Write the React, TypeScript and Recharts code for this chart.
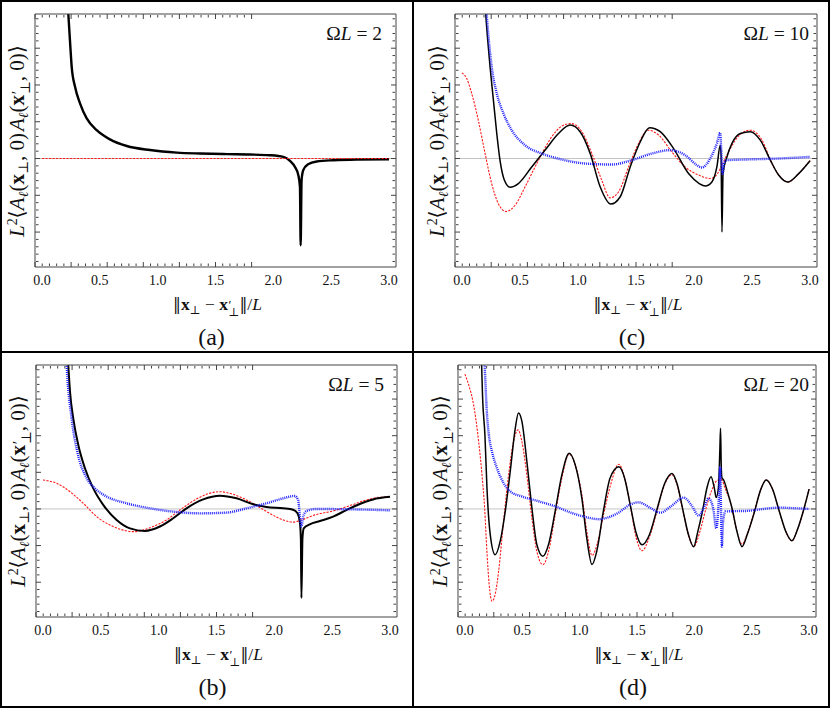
import { LineChart, Line, XAxis, YAxis, ReferenceLine } from 'recharts'

const SERIF = "'Liberation Serif', 'DejaVu Serif', serif"

// axis ranges (x gets the usual ~2% padding of the original plot)
const X_DOMAIN: [number, number] = [-0.06, 3.06]
const Y_DOMAIN: [number, number] = [-2.95, 3.93]
const X_TICKS = [0, 0.5, 1, 1.5, 2, 2.5, 3]
const X_MINOR = [0.1, 0.2, 0.3, 0.4, 0.6, 0.7, 0.8, 0.9, 1.1, 1.2, 1.3, 1.4, 1.6, 1.7, 1.8, 1.9, 2.1, 2.2, 2.3, 2.4, 2.6, 2.7, 2.8, 2.9]
const Y_TICKS = [-2, -1, 0, 1, 2, 3]
const Y_MINOR = [-2.8, -2.6, -2.4, -2.2, -1.8, -1.6, -1.4, -1.2, -0.8, -0.6, -0.4, -0.2, 0.2, 0.4, 0.6, 0.8, 1.2, 1.4, 1.6, 1.8, 2.2, 2.4, 2.6, 2.8, 3.2, 3.4, 3.6, 3.8]

// (a) ΩL = 2
const A_BLACK_X = [0.18, 0.21, 0.228, 0.242, 0.257, 0.286, 0.329, 0.387, 0.473, 0.588, 0.733, 0.934, 1.165, 1.366, 1.6, 1.8, 1.97, 2.086, 2.144, 2.187, 2.216, 2.23, 2.236, 2.244, 2.258, 2.3, 2.375, 2.52, 2.72, 3.0]
const A_BLACK_Y = [6.8, 4.9, 3.93, 3.22, 2.5, 1.95, 1.5, 1.09, 0.77, 0.52, 0.34, 0.23, 0.16, 0.136, 0.12, 0.11, 0.09, 0.044, -0.065, -0.23, -0.455, -0.77, -2.36, -0.59, -0.32, -0.155, -0.08, -0.046, -0.027, -0.02]
const A_RED_X = [0, 3.0]
const A_RED_Y = [0, 0]

// (b) ΩL = 5
const B_BLACK_X = [0.2, 0.219, 0.234, 0.262, 0.306, 0.363, 0.435, 0.521, 0.637, 0.752, 0.881, 1.011, 1.126, 1.241, 1.385, 1.529, 1.673, 1.817, 1.932, 2.076, 2.162, 2.2, 2.22, 2.229, 2.234, 2.243, 2.254, 2.306, 2.393, 2.508, 2.623, 2.738, 2.853, 3.0]
const B_BLACK_Y = [5.0, 3.92, 3.2, 2.47, 1.74, 1.11, 0.56, 0.11, -0.3, -0.53, -0.6, -0.48, -0.255, 0.017, 0.26, 0.36, 0.29, 0.126, 0.054, 0.017, -0.02, -0.12, -0.35, -0.8, -2.43, -0.8, -0.53, -0.42, -0.33, -0.21, -0.03, 0.135, 0.26, 0.33]
const B_RED_X = [0, 0.118, 0.234, 0.349, 0.464, 0.608, 0.78, 0.953, 1.068, 1.184, 1.327, 1.414, 1.529, 1.644, 1.788, 1.932, 2.076, 2.162, 2.234, 2.364, 2.508, 2.652, 2.796, 2.91, 3.0]
const B_RED_Y = [0.79, 0.7, 0.47, 0.153, -0.21, -0.48, -0.62, -0.48, -0.3, -0.03, 0.27, 0.4, 0.47, 0.4, 0.2, -0.07, -0.3, -0.36, -0.3, -0.15, -0.055, 0.09, 0.245, 0.32, 0.33]
const B_BLUE_X = [0.19, 0.205, 0.248, 0.297, 0.378, 0.45, 0.55, 0.723, 0.925, 1.126, 1.356, 1.587, 1.759, 1.932, 2.076, 2.177, 2.205, 2.226, 2.234, 2.249, 2.278, 2.364, 2.652, 3.0]
const B_BLUE_Y = [5.0, 3.92, 2.47, 1.56, 0.84, 0.56, 0.34, 0.153, 0.017, -0.073, -0.12, -0.1, 0.017, 0.153, 0.29, 0.354, 0.245, -0.346, -0.48, -0.21, -0.055, 0.0, -0.01, -0.037]

// (c) ΩL = 10
const C_BLACK_X = [0.19, 0.205, 0.222, 0.242, 0.271, 0.3, 0.328, 0.366, 0.415, 0.486, 0.601, 0.717, 0.832, 0.932, 1.018, 1.105, 1.191, 1.283, 1.364, 1.45, 1.536, 1.617, 1.709, 1.824, 1.953, 2.045, 2.097, 2.154, 2.197, 2.226, 2.233, 2.241, 2.25, 2.284, 2.327, 2.399, 2.485, 2.571, 2.658, 2.729, 2.807, 2.902, 3.0]
const C_BLACK_Y = [4.9, 3.93, 3.22, 2.5, 1.59, 0.68, -0.05, -0.59, -0.78, -0.68, -0.23, 0.23, 0.68, 0.91, 0.73, 0.14, -0.77, -1.24, -1.04, -0.23, 0.45, 0.84, 0.73, 0.27, -0.41, -0.68, -0.75, -0.64, -0.23, 0.36, 0.1, -2.0, -0.41, 0.045, 0.41, 0.68, 0.73, 0.5, -0.045, -0.45, -0.64, -0.41, -0.06]
const C_RED_X = [0, 0.04, 0.084, 0.141, 0.199, 0.256, 0.314, 0.38, 0.458, 0.544, 0.659, 0.774, 0.86, 0.941, 1.033, 1.119, 1.205, 1.277, 1.349, 1.436, 1.522, 1.602, 1.694, 1.809, 1.924, 2.04, 2.14, 2.2, 2.25, 2.3, 2.35, 2.4, 2.485, 2.586, 2.672, 2.758, 2.81, 2.902, 3.0]
const C_RED_Y = [2.33, 2.18, 1.77, 1.04, 0.14, -0.68, -1.23, -1.44, -1.27, -0.77, -0.05, 0.59, 0.88, 0.95, 0.73, 0.14, -0.59, -1.07, -0.91, -0.23, 0.41, 0.77, 0.64, 0.18, -0.23, -0.45, -0.545, -0.42, -0.12, 0.2, 0.47, 0.66, 0.77, 0.5, -0.14, -0.545, -0.64, -0.41, -0.05]
const C_BLUE_X = [0.19, 0.213, 0.256, 0.3, 0.357, 0.429, 0.544, 0.688, 0.86, 1.062, 1.292, 1.464, 1.637, 1.795, 1.924, 2.025, 2.068, 2.14, 2.197, 2.226, 2.235, 2.246, 2.26, 2.284, 2.442, 2.73, 3.0]
const C_BLUE_Y = [5.0, 3.93, 2.5, 1.77, 1.23, 0.77, 0.36, 0.136, -0.027, -0.136, -0.163, -0.045, 0.136, 0.227, 0.09, -0.18, -0.245, 0.0, 0.41, 0.7, 0.2, -0.41, -0.1, -0.045, -0.027, 0.0, 0.045]

// (d) ΩL = 20
const D_BLACK_X = [0.13, 0.146, 0.154, 0.175, 0.192, 0.221, 0.264, 0.308, 0.352, 0.395, 0.439, 0.467, 0.497, 0.54, 0.584, 0.627, 0.68, 0.729, 0.787, 0.845, 0.909, 0.961, 1.019, 1.062, 1.108, 1.149, 1.207, 1.265, 1.342, 1.392, 1.443, 1.494, 1.544, 1.61, 1.675, 1.74, 1.805, 1.85, 1.9, 1.95, 1.994, 2.03, 2.07, 2.11, 2.145, 2.175, 2.19, 2.21, 2.222, 2.228, 2.234, 2.24, 2.255, 2.29, 2.328, 2.37, 2.415, 2.465, 2.52, 2.575, 2.626, 2.68, 2.738, 2.8, 2.85, 2.9, 2.95, 3.0]
const D_BLACK_Y = [5.0, 3.92, 3.07, 2.0, 0.6, -0.7, -1.25, -0.88, -0.06, 1.02, 2.2, 2.62, 2.39, 1.3, 0.03, -0.97, -1.29, -0.97, -0.06, 0.93, 1.52, 1.21, 0.3, -0.79, -1.52, -1.16, -0.06, 0.84, 1.15, 0.84, 0.08, -0.67, -0.98, -0.69, 0.0, 0.69, 0.97, 0.68, -0.03, -0.72, -1.03, -0.62, -0.07, 0.58, 0.88, 0.55, 0.31, 0.6, 1.6, 2.2, 1.2, 0.85, 0.79, 0.45, 0.02, -0.6, -1.03, -0.66, -0.12, 0.5, 0.79, 0.55, -0.04, -0.64, -0.87, -0.55, -0.05, 0.54]
const D_RED_X = [0, 0.033, 0.076, 0.12, 0.149, 0.172, 0.192, 0.212, 0.236, 0.264, 0.294, 0.337, 0.381, 0.424, 0.464, 0.497, 0.54, 0.584, 0.627, 0.68, 0.729, 0.787, 0.845, 0.909, 0.961, 1.019, 1.062, 1.108, 1.154, 1.212, 1.27, 1.341, 1.392, 1.444, 1.494, 1.544, 1.61, 1.675, 1.74, 1.805, 1.85, 1.9, 1.95, 1.994, 2.05, 2.1, 2.15, 2.2, 2.235, 2.27, 2.328, 2.37, 2.415, 2.465, 2.52, 2.575, 2.626, 2.68, 2.738, 2.8, 2.85, 2.9, 2.95, 3.0]
const D_RED_Y = [3.68, 3.39, 2.84, 1.84, 0.93, 0.03, -1.16, -2.07, -2.52, -2.33, -1.7, -0.34, 0.93, 1.84, 2.16, 1.84, 0.93, -0.25, -1.16, -1.52, -1.16, -0.15, 0.84, 1.5, 1.21, 0.39, -0.6, -1.27, -0.95, -0.1, 0.66, 1.22, 0.85, 0.05, -0.8, -1.14, -0.75, -0.05, 0.66, 0.93, 0.65, -0.05, -0.72, -1.03, -0.6, 0.0, 0.5, 0.78, 0.8, 0.55, 0.02, -0.6, -0.96, -0.64, -0.1, 0.5, 0.79, 0.55, -0.04, -0.64, -0.87, -0.55, -0.05, 0.54]
const D_BLUE_X = [0.15, 0.172, 0.192, 0.207, 0.236, 0.279, 0.337, 0.395, 0.497, 0.642, 0.787, 0.932, 1.077, 1.167, 1.25, 1.34, 1.44, 1.515, 1.61, 1.704, 1.8, 1.907, 1.975, 2.037, 2.085, 2.124, 2.165, 2.191, 2.21, 2.226, 2.232, 2.24, 2.25, 2.27, 2.35, 2.444, 2.6, 2.734, 2.87, 3.0]
const D_BLUE_Y = [5.2, 3.93, 2.62, 2.07, 1.57, 1.12, 0.71, 0.48, 0.34, 0.21, 0.07, -0.11, -0.24, -0.28, -0.23, -0.1, 0.12, 0.18, 0.04, -0.1, 0.08, 0.31, 0.1, -0.18, 0.05, 0.29, 0.0, -0.53, 0.1, 1.15, 0.0, -1.03, -0.35, -0.07, -0.06, -0.055, 0.0, 0.036, 0.02, 0.0]

const C_BLACK = '#000000'
const C_RED = '#ff1a1a'
const C_BLUE = '#1f1fff'
const C_FRAME = '#444444'
const C_ZERO = '#c4c4c4'

const zip = (xs: number[], ys: number[]) =>
  xs.slice(0, Math.min(xs.length, ys.length)).map((x, i) => ({ x, y: ys[i] }))

// chart-level rows so the frame-only axes get a domain too
const FRAME_ROWS = zip(X_TICKS, Y_TICKS)

type Series = { xs: number[]; ys: number[]; kind: 'black' | 'red' | 'blue' }

interface PanelDef {
  id: string
  left: number
  top: number
  w: number
  h: number
  title: string
  titleRight: number
  caption: string
  blackWidth: number
  series: Series[]
}

const PANELS: PanelDef[] = [
  {
    id: 'a', left: 35, top: 14, w: 361, h: 253, title: '2', titleRight: 382, caption: '(a)', blackWidth: 2.4,
    series: [
      { xs: A_BLACK_X, ys: A_BLACK_Y, kind: 'black' },
      { xs: A_RED_X, ys: A_RED_Y, kind: 'red' },
    ],
  },
  {
    id: 'c', left: 455, top: 14, w: 362, h: 253, title: '10', titleRight: 809, caption: '(c)', blackWidth: 1.5,
    series: [
      { xs: C_RED_X, ys: C_RED_Y, kind: 'red' },
      { xs: C_BLACK_X, ys: C_BLACK_Y, kind: 'black' },
      { xs: C_BLUE_X, ys: C_BLUE_Y, kind: 'blue' },
    ],
  },
  {
    id: 'b', left: 36, top: 365, w: 361, h: 252, title: '5', titleRight: 384, caption: '(b)', blackWidth: 2,
    series: [
      { xs: B_RED_X, ys: B_RED_Y, kind: 'red' },
      { xs: B_BLACK_X, ys: B_BLACK_Y, kind: 'black' },
      { xs: B_BLUE_X, ys: B_BLUE_Y, kind: 'blue' },
    ],
  },
  {
    id: 'd', left: 458, top: 365, w: 358, h: 252, title: '20', titleRight: 809, caption: '(d)', blackWidth: 1.5,
    series: [
      { xs: D_RED_X, ys: D_RED_Y, kind: 'red' },
      { xs: D_BLACK_X, ys: D_BLACK_Y, kind: 'black' },
      { xs: D_BLUE_X, ys: D_BLUE_Y, kind: 'blue' },
    ],
  },
]

const SUB: React.CSSProperties = { fontSize: '0.66em', verticalAlign: '-0.3em', lineHeight: 0 }
const SUP: React.CSSProperties = { fontSize: '0.66em', verticalAlign: '0.5em', lineHeight: 0 }

// x with a prime above and ⊥ below, stacked in one column
const XPrimePerp = () => (
  <>
    <b>x</b>
    <span
      style={{
        display: 'inline-flex', flexDirection: 'column', fontSize: '0.66em', lineHeight: 0.6,
        verticalAlign: '0.1em', marginLeft: '0.05em',
      }}
    >
      <span style={{ fontSize: '1.15em' }}>′</span>
      <span>⊥</span>
    </span>
  </>
)

function YLabel({ cx, cy }: { cx: number; cy: number }) {
  return (
    <div
      style={{
        position: 'absolute', left: cx, top: cy,
        transform: 'translate(-50%, -50%) rotate(-90deg)',
        whiteSpace: 'nowrap', fontSize: 21, lineHeight: 1, fontFamily: SERIF, color: '#111',
      }}
    >
      <i>L</i><sup style={SUP}>2</sup>⟨<i>A</i><sub style={SUB}><i>ℓ</i></sub>(<b>x</b><sub style={SUB}>⊥</sub>, 0)
      <span style={{ marginLeft: 2 }} />
      <i>A</i><sub style={SUB}><i>ℓ</i></sub>(<XPrimePerp />, 0)⟩
    </div>
  )
}

function XLabel({ cx, cy }: { cx: number; cy: number }) {
  return (
    <div
      style={{
        position: 'absolute', left: cx, top: cy, transform: 'translate(-50%, -50%)',
        whiteSpace: 'nowrap', fontSize: 17.5, lineHeight: 1, fontFamily: SERIF, color: '#111',
      }}
    >
      <span style={{ fontFamily: "'DejaVu Serif', serif", fontSize: '0.9em' }}>‖</span>
      <b>x</b><sub style={SUB}>⊥</sub> − <XPrimePerp />
      <span style={{ fontFamily: "'DejaVu Serif', serif", fontSize: '0.9em' }}>‖</span>/<i>L</i>
    </div>
  )
}

// frame axes carry tick marks only, no labels
const BlankTick = () => <g />

function frameAxes() {
  const line = { stroke: C_FRAME, strokeWidth: 1 }
  const xCommon = { type: 'number' as const, domain: X_DOMAIN, allowDataOverflow: true, interval: 0 as const, tick: BlankTick, mirror: true, height: 1 }
  const yCommon = { type: 'number' as const, domain: Y_DOMAIN, allowDataOverflow: true, interval: 0 as const, tick: BlankTick, mirror: true, width: 1 }
  return [
    <XAxis key="bmaj" xAxisId="bmaj" orientation="bottom" {...xCommon} ticks={X_TICKS} tickSize={5} tickLine={line} axisLine={line} />,
    <XAxis key="bmin" xAxisId="bmin" orientation="bottom" {...xCommon} ticks={X_MINOR} tickSize={2.5} tickLine={line} axisLine={false} />,
    <XAxis key="tmaj" xAxisId="tmaj" orientation="top" {...xCommon} ticks={X_TICKS} tickSize={5} tickLine={line} axisLine={line} />,
    <XAxis key="tmin" xAxisId="tmin" orientation="top" {...xCommon} ticks={X_MINOR} tickSize={2.5} tickLine={line} axisLine={false} />,
    <YAxis key="lmaj" yAxisId="lmaj" orientation="left" {...yCommon} ticks={Y_TICKS} tickSize={5} tickLine={line} axisLine={line} />,
    <YAxis key="lmin" yAxisId="lmin" orientation="left" {...yCommon} ticks={Y_MINOR} tickSize={2.5} tickLine={line} axisLine={false} />,
    <YAxis key="rmaj" yAxisId="rmaj" orientation="right" {...yCommon} ticks={Y_TICKS} tickSize={5} tickLine={line} axisLine={line} />,
    <YAxis key="rmin" yAxisId="rmin" orientation="right" {...yCommon} ticks={Y_MINOR} tickSize={2.5} tickLine={line} axisLine={false} />,
  ]
}

function seriesLine(s: Series, i: number, blackWidth: number) {
  const style =
    s.kind === 'black'
      ? { stroke: C_BLACK, strokeWidth: blackWidth }
      : s.kind === 'red'
        ? { stroke: C_RED, strokeWidth: 1.1, strokeDasharray: '2.2 1.3' }
        : { stroke: C_BLUE, strokeWidth: 2.4, strokeDasharray: '1 1' }
  return (
    <Line
      key={i}
      xAxisId="lab"
      yAxisId="lmaj"
      data={zip(s.xs, s.ys)}
      dataKey="y"
      type="monotone"
      dot={false}
      activeDot={false}
      isAnimationActive={false}
      {...style}
    />
  )
}

function Panel({ p }: { p: PanelDef }) {
  const cx = p.left + p.w / 2
  return (
    <>
      <div style={{ position: 'absolute', left: p.left - 15, top: p.top - 5 }}>
        <LineChart
          width={p.w + 30}
          height={p.h + 30}
          data={FRAME_ROWS}
          margin={{ top: 5, right: 15, bottom: 0, left: 15 }}
        >
          <XAxis
            xAxisId="lab"
            type="number"
            dataKey="x"
            domain={X_DOMAIN}
            allowDataOverflow
            ticks={X_TICKS}
            interval={0}
            tickFormatter={(v: number) => v.toFixed(1)}
            tickLine={false}
            axisLine={false}
            tickSize={0}
            tickMargin={8}
            height={25}
            tick={{ fontSize: 14, fill: '#111', fontFamily: SERIF }}
          />
          {frameAxes()}
          <ReferenceLine xAxisId="lab" yAxisId="lmaj" y={0} stroke={C_ZERO} strokeWidth={1} />
          {p.series.map((s, i) => seriesLine(s, i, p.blackWidth))}
        </LineChart>
      </div>
      <YLabel cx={p.left - 16} cy={p.top + p.h / 2} />
      <XLabel cx={cx + 2} cy={p.top + p.h + 39} />
      <div
        style={{
          position: 'absolute', left: p.titleRight, top: p.top + 20, transform: 'translate(-100%, -50%)',
          fontSize: 19.5, lineHeight: 1, fontFamily: SERIF, color: '#111', whiteSpace: 'nowrap',
        }}
      >
        Ω<i>L</i> = {p.title}
      </div>
      <div
        style={{
          position: 'absolute', left: cx - 4, top: p.top + p.h + 70, transform: 'translate(-50%, -50%)',
          fontSize: 24, lineHeight: 1, fontFamily: SERIF, color: '#111',
        }}
      >
        {p.caption}
      </div>
    </>
  )
}

export default function App() {
  return (
    <div
      style={{
        position: 'absolute', left: 0, top: 0, width: 830, height: 708,
        background: '#fff', boxSizing: 'border-box', border: '2px solid #000', overflow: 'hidden',
      }}
    >
      <div style={{ position: 'absolute', left: 410, top: 0, width: 2, height: 708, background: '#000' }} />
      <div style={{ position: 'absolute', left: 0, top: 349, width: 830, height: 2, background: '#000' }} />
      {PANELS.map((p) => (
        <div key={p.id} style={{ position: 'absolute', left: -2, top: -2 }}>
          <Panel p={p} />
        </div>
      ))}
    </div>
  )
}
